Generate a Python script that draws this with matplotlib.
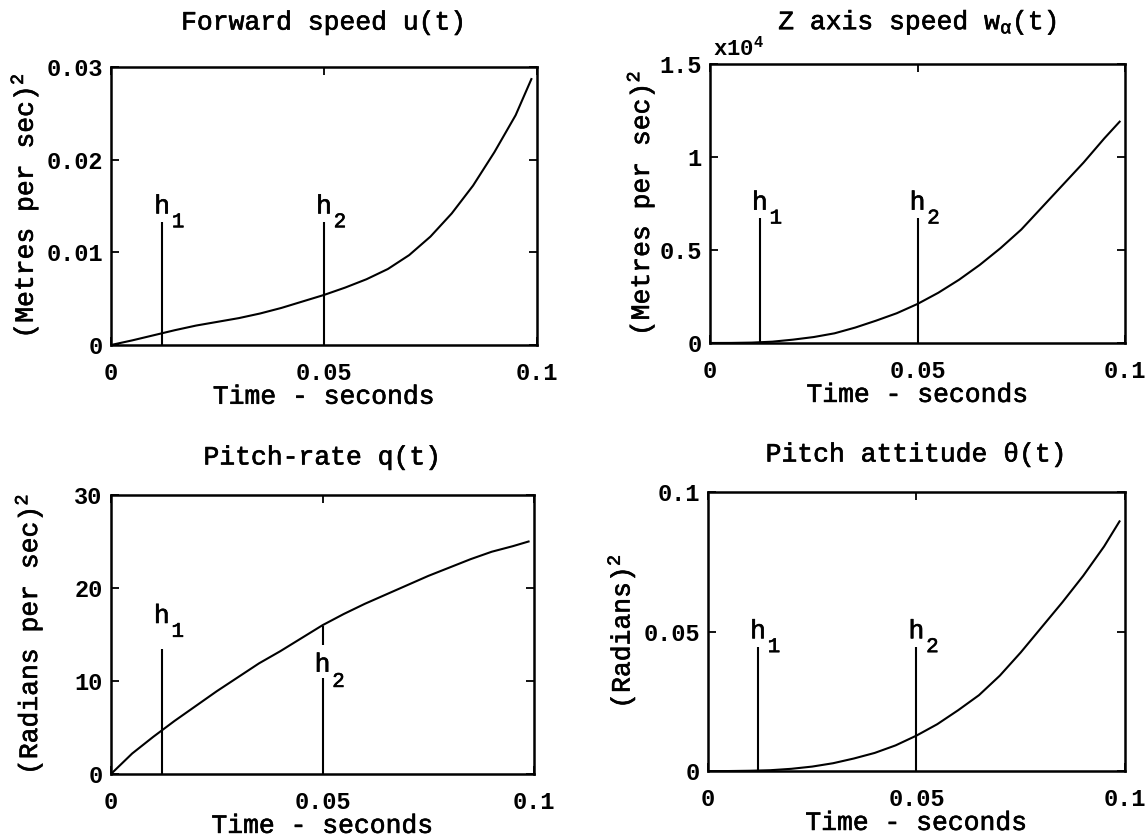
import matplotlib
matplotlib.use('Agg')
import matplotlib.pyplot as plt
import matplotlib.patheffects as pe

plt.rcParams['font.family'] = ['Liberation Mono', 'DejaVu Sans Mono']
plt.rcParams['mathtext.fontset'] = 'custom'
plt.rcParams['mathtext.rm'] = 'Liberation Mono'
plt.rcParams['mathtext.it'] = 'Liberation Mono'
plt.rcParams['mathtext.bf'] = 'Liberation Mono:bold'

# time samples (seconds)
time = [0, 0.005, 0.01, 0.015, 0.02, 0.025, 0.03, 0.035, 0.04, 0.045, 0.05,
        0.055, 0.06, 0.065, 0.07, 0.075, 0.08, 0.085, 0.09, 0.095, 0.0987]

# forward speed u(t)
u_vals = [0, 0.0005, 0.00105, 0.0016, 0.0021, 0.0025, 0.0029, 0.0034, 0.0040, 0.0047, 0.0054,
          0.0062, 0.0071, 0.0082, 0.0097, 0.0117, 0.0142, 0.0172, 0.0208, 0.0248, 0.0287]
# z axis speed w(t), in units of 1e4
w_vals = [0, 0.0003, 0.002, 0.007, 0.018, 0.032, 0.052, 0.083, 0.12, 0.16, 0.21,
          0.27, 0.34, 0.42, 0.51, 0.61, 0.73, 0.85, 0.97, 1.10, 1.19]
# pitch rate q(t)
q_vals = [0, 2.2, 4.0, 5.7, 7.3, 8.9, 10.4, 11.9, 13.2, 14.6, 16.0,
          17.2, 18.3, 19.3, 20.3, 21.3, 22.2, 23.1, 23.9, 24.5, 25.0]
# pitch attitude theta(t)
th_vals = [0, 0.0, 0.0001, 0.0003, 0.0008, 0.0016, 0.0028, 0.0045, 0.0065, 0.0092, 0.0127,
           0.0168, 0.0218, 0.0272, 0.0342, 0.0425, 0.0515, 0.0605, 0.0700, 0.0805, 0.0895]

series = [u_vals, w_vals, q_vals, th_vals]

titles = ['Forward speed u(t)', r'Z axis speed w$_\alpha$(t)',
          'Pitch-rate q(t)', 'Pitch attitude \u03b8(t)']
ylabels = [r'(Metres per sec)$^2$', r'(Metres per sec)$^2$',
           r'(Radians per sec)$^2$', r'(Radians)$^2$']
yticks = [[0, 0.01, 0.02, 0.03], [0, 0.5, 1, 1.5], [0, 10, 20, 30], [0, 0.05, 0.1]]
ytick_labels = [['0', '0.01', '0.02', '0.03'], ['0', '0.5', '1', '1.5'],
                ['0', '10', '20', '30'], ['0', '0.05', '0.1']]
xticks = [0, 0.05, 0.1]
xtick_labels = ['0', '0.05', '0.1']

# h1 / h2 marker times and line heights
h_times = [0.012, 0.05]
h_heights = [0.0133, 0.672, 13.4, 0.0446]
# pitch-rate h2 line is broken by its label
q_h2_segments = [(0, 10.3), (13.9, 15.9)]
q_h2_label_y = 11.0

positions = [[0.0967, 0.5888, 0.371, 0.3313],
             [0.6185, 0.5912, 0.3615, 0.3325],
             [0.0967, 0.0775, 0.3685, 0.3325],
             [0.6167, 0.0810, 0.3632, 0.3325]]
title_pads = [27, 25, 22, 22]
ylabel_x = [-0.167, -0.13, -0.158, -0.171]
h_label_lift = [0, 0, 13, 0]

thick = [pe.withStroke(linewidth=0.45, foreground='black')]

fig = plt.figure(figsize=(11.48, 8.39), dpi=100)

for i in range(4):
    ax = fig.add_axes(positions[i])
    ax.plot(time, series[i], color='black', lw=1.5, solid_joinstyle='round')
    ax.set_xlim(0, 0.1)
    ax.set_ylim(0, yticks[i][-1])
    ax.set_xticks(xticks)
    ax.set_xticklabels(xtick_labels, fontsize=17, fontweight='bold')
    ax.set_yticks(yticks[i])
    ax.set_yticklabels(ytick_labels[i], fontsize=17, fontweight='bold')
    ax.tick_params(direction='in', top=True, right=True, length=6, width=1.3)
    ax.tick_params(axis='x', pad=12)
    ax.tick_params(axis='y', pad=6)
    for s in ax.spines.values():
        s.set_linewidth(1.8)
    ax.set_title(titles[i], fontsize=19, pad=title_pads[i], path_effects=thick)
    ax.set_xlabel('Time - seconds', fontsize=19, path_effects=thick)
    ax.xaxis.set_label_coords(0.5, -0.143)
    ax.set_ylabel(ylabels[i], fontsize=19, path_effects=thick)
    ax.yaxis.set_label_coords(ylabel_x[i], 0.5)

    for j, ht in enumerate(h_times):
        if i == 2 and j == 1:
            for y0, y1 in q_h2_segments:
                ax.vlines(ht, y0, y1, color='black', lw=1.5)
            ax.annotate('h', xy=(ht, q_h2_label_y), ha='center', va='baseline',
                        fontsize=19, path_effects=thick)
            ax.annotate(str(j + 1), xy=(ht, q_h2_label_y), xytext=(7, -7),
                        textcoords='offset points', ha='left', va='center',
                        fontsize=15, path_effects=thick)
            continue
        top = h_heights[i]
        lift = h_label_lift[i]
        ax.vlines(ht, 0, top, color='black', lw=1.5)
        ax.annotate('h', xy=(ht, top), xytext=(0, 6 + lift), textcoords='offset points',
                    ha='center', va='baseline', fontsize=19, path_effects=thick)
        ax.annotate(str(j + 1), xy=(ht, top), xytext=(7, lift), textcoords='offset points',
                    ha='left', va='center', fontsize=15, path_effects=thick)

    if i == 1:
        ax.text(0.007, 1.032, r'$\mathbf{x10^4}$', transform=ax.transAxes, fontsize=16,
                ha='left', va='baseline')

fig.savefig('out.png', dpi=100)
